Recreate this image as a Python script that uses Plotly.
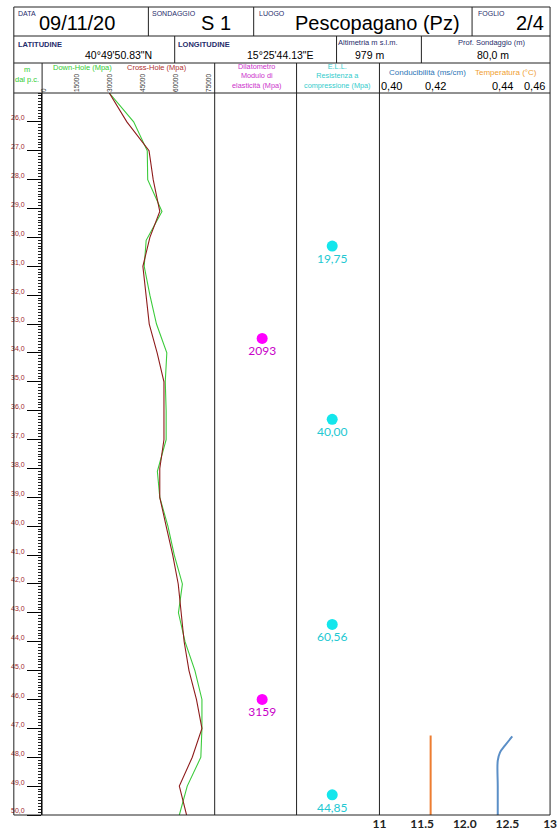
import plotly.graph_objects as go

# ---------------- data ----------------
depth_down = [25.0, 26.0, 27.0, 28.0, 29.1, 30.1, 31.0, 32.0, 33.0, 34.0, 35.0, 36.0, 37.0,
              38.1, 39.0, 40.0, 41.0, 42.0, 43.0, 44.0, 45.0, 46.0, 47.0, 48.0, 49.0, 50.0]
down_hole = [29700, 40800, 47000, 47200, 53700, 46500, 45600, 48200, 51200, 55900, 55200, 55600, 55600,
             51600, 52700, 56400, 59300, 63000, 61200, 64200, 68700, 71900, 71900, 71400, 65200, 61600]

depth_cross = [25.0, 26.0, 27.0, 28.0, 29.1, 30.0, 31.0, 32.0, 33.0, 34.0, 35.0, 36.0, 37.0,
               38.0, 39.0, 40.0, 41.0, 42.0, 43.0, 44.0, 45.0, 46.0, 47.0, 48.0, 49.0, 50.0]
cross_hole = [29700, 37700, 47800, 49700, 52700, 48200, 45000, 46500, 47900, 51500, 54600, 54600, 54600,
              52700, 52700, 55600, 58600, 61100, 62300, 63800, 66000, 69400, 71900, 67500, 61600, 64900]

dil_depth = [33.5, 46.0]
dil_value = [2093, 3159]

ell_depth = [30.3, 36.3, 43.4, 49.3]
ell_value = [19.75, 40.00, 60.56, 44.85]

cond_depth = [47.28, 47.6, 47.83, 48.12, 49.0, 50.0]
cond_value = [0.4467, 0.4441, 0.4424, 0.4416, 0.4416, 0.4416]

temp_depth = [47.25, 50.0]
temp_value = [11.6, 11.6]

depth_ticks = [26, 27, 28, 29, 30, 31, 32, 33, 34, 35, 36, 37, 38, 39, 40,
               41, 42, 43, 44, 45, 46, 47, 48, 49, 50]
vs_ticks = [0, 15000, 30000, 45000, 60000, 75000]
temp_ticks = [11, 11.5, 12, 12.5, 13]
temp_ticktext = ["11", "11.5", "12.0", "12.5", "13"]
cond_header_labels = ["0,40", "0,42", "0,44", "0,46"]

# ---------------- layout helpers ----------------
W, H = 560, 832
def X(px): return px / W
def Y(py): return 1 - py / H

SANS = "Liberation Sans, Arial, sans-serif"
CAL = "Lato, Open Sans, sans-serif"
NAVY = "#1F2D6B"
GREEN = "#33CC33"
BROWN = "#A0282D"
MAGENTA = "#FF00FF"
CYAN = "#14E6EC"

y_dom = [Y(815), Y(93)]

fig = go.Figure()

fig.add_trace(go.Scatter(x=down_hole, y=depth_down, mode="lines", line=dict(color="#3CCB3C", width=1.1),
                         xaxis="x", yaxis="y", showlegend=False))
fig.add_trace(go.Scatter(x=cross_hole, y=depth_cross, mode="lines", line=dict(color="#8E1C1C", width=1.1),
                         xaxis="x", yaxis="y", showlegend=False))

DIL_POS = 0.58
ELL_POS = 0.43
fig.add_trace(go.Scatter(x=[DIL_POS] * len(dil_depth), y=dil_depth, mode="markers+text",
                         marker=dict(color=MAGENTA, size=11), customdata=dil_value,
                         texttemplate="%{customdata:d}", textposition="bottom center",
                         textfont=dict(family=CAL, size=12, color="#C800C8"),
                         xaxis="x2", yaxis="y2", showlegend=False, cliponaxis=False))
fig.add_trace(go.Scatter(x=[ELL_POS] * len(ell_depth), y=ell_depth, mode="markers+text",
                         marker=dict(color=CYAN, size=11), customdata=ell_value,
                         texttemplate="%{customdata:.2f}", textposition="bottom center",
                         textfont=dict(family=CAL, size=12, color="#22C8D2"),
                         xaxis="x3", yaxis="y3", showlegend=False, cliponaxis=False))

fig.add_trace(go.Scatter(x=temp_value, y=temp_depth, mode="lines", line=dict(color="#ED7D31", width=2),
                         xaxis="x4", yaxis="y4", showlegend=False))
fig.add_trace(go.Scatter(x=cond_value, y=cond_depth, mode="lines", line=dict(color="#5B8FC7", width=2, shape="spline"),
                         xaxis="x5", yaxis="y4", showlegend=False))

hidden = dict(showticklabels=False, showgrid=False, zeroline=False, showline=False, ticks="")

fig.update_layout(
    width=W, height=H, autosize=False,
    margin=dict(l=0, r=0, t=0, b=0),
    paper_bgcolor="white", plot_bgcolor="white",
    separators=",.",
    hovermode=False,
    xaxis=dict(domain=[X(36), X(213)], range=[-900, 77700], side="top", anchor="y",
               tickvals=vs_ticks, tickformat="d", tickangle=-90, exponentformat="none",
               tickfont=dict(family=SANS, size=6.5, color="#333"), ticks="", ticklen=0,
               showgrid=False, zeroline=False, showline=False),
    yaxis=dict(domain=y_dom, range=[50, 25], anchor="x", tickvals=depth_ticks, tickformat=".1f",
               ticks="outside", ticklen=14, tickwidth=1, tickcolor="black",
               minor=dict(dtick=0.1, tick0=0, ticks="outside", ticklen=3, tickwidth=1, tickcolor="#222", showgrid=False),
               showline=True, linecolor="black", linewidth=1,
               tickfont=dict(family=SANS, size=7, color=BROWN), ticklabelshift=4, ticklabelstandoff=1,
               showgrid=False, zeroline=False),
    yaxis6=dict(overlaying="y", anchor="x", side="left", range=[50, 25], tick0=0.5, dtick=1,
                ticks="outside", ticklen=6, tickwidth=1, tickcolor="#222", showticklabels=False,
                showgrid=False, zeroline=False, showline=False),
    xaxis2=dict(domain=[X(213), X(297)], range=[0, 1], anchor="y2", **hidden),
    yaxis2=dict(domain=y_dom, matches="y", anchor="x2", **hidden),
    xaxis3=dict(domain=[X(297), X(382)], range=[0, 1], anchor="y3", **hidden),
    yaxis3=dict(domain=y_dom, matches="y", anchor="x3", **hidden),
    xaxis4=dict(domain=[X(382), X(557)], range=[11, 13], anchor="y4", side="bottom",
                tickvals=temp_ticks, ticktext=temp_ticktext, ticks="", ticklabeloverflow="allow",
                tickfont=dict(family=CAL, size=12, color="#222", weight="bold"),
                showgrid=False, zeroline=False, showline=False),
    xaxis5=dict(overlaying="x4", anchor="y4", range=[0.40, 0.46], side="top", **hidden),
    yaxis4=dict(domain=y_dom, matches="y", anchor="x4", **hidden),
)

# ---------------- grid lines ----------------
shapes = []
def line(x0, y0, x1, y1, w=1, c="#222"):
    shapes.append(dict(type="line", xref="paper", yref="paper", x0=X(x0), y0=Y(y0), x1=X(x1), y1=Y(y1),
                       line=dict(color=c, width=w)))

shapes.append(dict(type="rect", xref="paper", yref="paper", x0=X(7), y0=Y(7), x1=X(557), y1=Y(815),
                   line=dict(color="#222", width=1)))
for yy in (36, 63, 93):
    line(7, yy, 557, yy)
for xx in (145, 253, 477):
    line(xx, 7, xx, 36)
for xx in (172, 338, 425):
    line(xx, 36, xx, 63)
for xx in (36, 213, 297, 382):
    line(xx, 63, xx, 815)
fig.update_layout(shapes=shapes)

# ---------------- header texts ----------------
ann = []
def txt(s, x, y, size, color="black", xa="center", ya="middle", family=SANS, bold=False):
    ann.append(dict(text=s, x=X(x), y=Y(y), xref="paper", yref="paper", xanchor=xa, yanchor=ya,
                    showarrow=False, font=dict(family=family, size=size, color=color,
                                              weight="bold" if bold else "normal"), align="center"))

txt("DATA", 9, 8, 7, NAVY, "left", "top")
txt("09/11/20", 72, 23, 20)
txt("SONDAGGIO", 147, 8, 7, NAVY, "left", "top")
txt("S 1", 214, 23, 20)
txt("LUOGO", 256, 8, 7, NAVY, "left", "top")
txt("Pescopagano (Pz)", 380, 23, 20)
txt("FOGLIO", 481, 8, 7, NAVY, "left", "top")
txt("2/4", 553, 23, 20, "black", "right")

txt("LATITUDINE", 9, 38, 7.5, NAVY, "left", "top", bold=True)
txt("40°49'50.83\"N", 114, 55, 10.5)
txt("LONGITUDINE", 173, 38, 7.5, NAVY, "left", "top", bold=True)
txt("15°25'44.13\"E", 280, 55, 10.5)
txt("Altimetria m s.l.m.", 370, 43, 7.5, NAVY)
txt("979 m", 372, 55, 10.5)
txt("Prof. Sondaggio (m)", 497, 43, 7.5, NAVY)
txt("80,0 m", 498, 55, 10.5)

txt("m<br>dal p.c.", 21, 75, 7.5, GREEN)
txt("Down-Hole (Mpa)", 77, 67, 7.5, GREEN)
txt("Cross-Hole (Mpa)", 154, 67, 7.5, "#B03030")
txt("Dilatometro<br>Modulo di<br>elasticità (Mpa)", 256, 76, 7.3, "#CC33CC")
txt("E.L.L.<br>Resistenza a<br>compressione (Mpa)", 339, 76, 7.3, "#33CCCC")
txt("Conducibilità (ms/cm)", 431, 72, 8, "#2E75B6")
txt("Temperatura (°C)", 512, 72, 8, "#F0A030")
for lab, cx in zip(cond_header_labels, [394, 439, 508, 541]):
    txt(lab, cx, 86, 11)

fig.update_layout(annotations=ann)

fig.write_html("out.html", config={"displayModeBar": False},
               post_script="document.body.style.margin='0';document.body.style.overflow='hidden';")
